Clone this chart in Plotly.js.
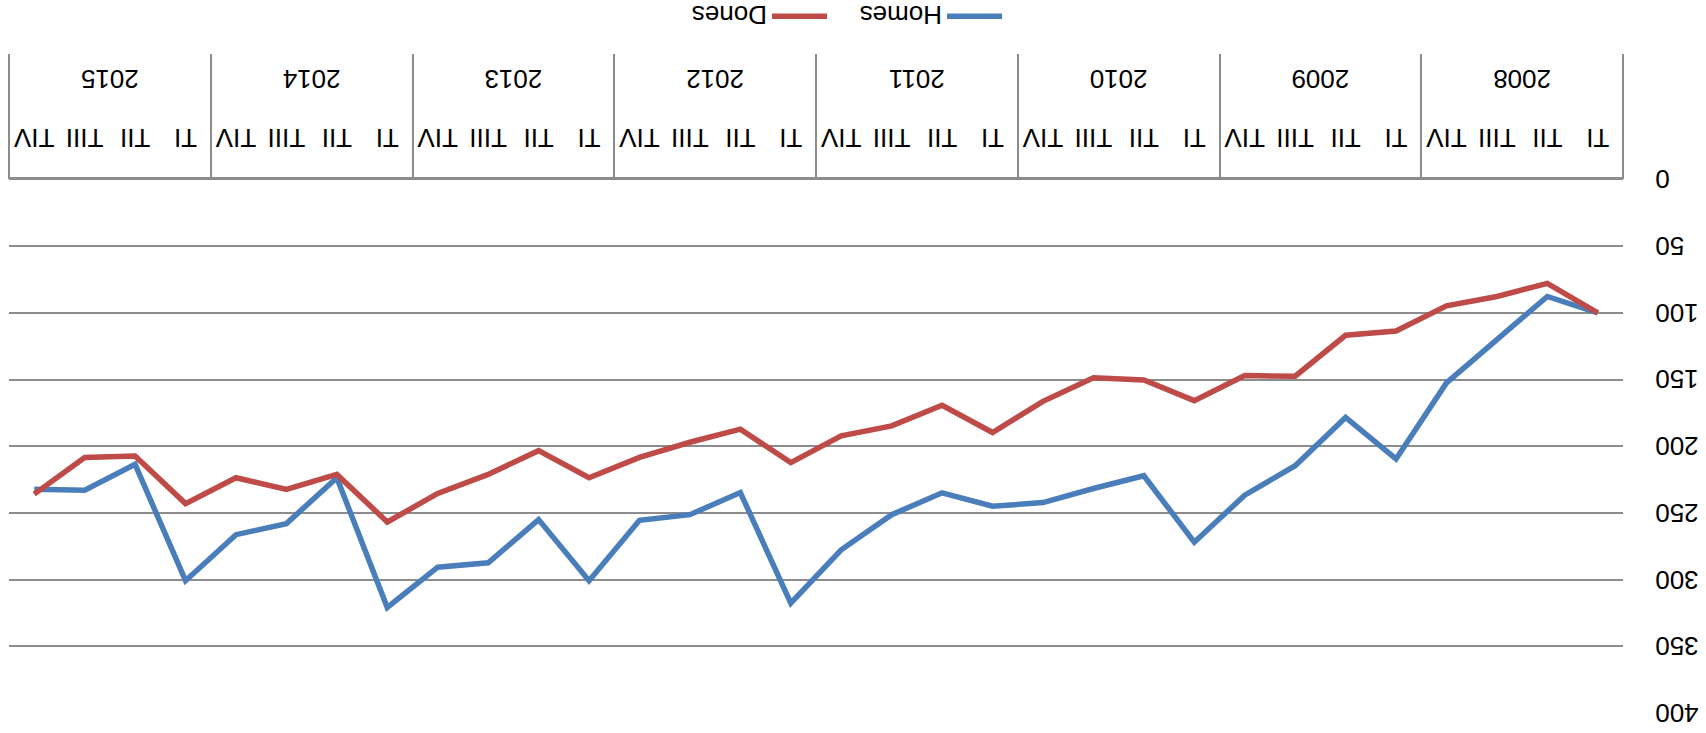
<!DOCTYPE html>
<html>
<head>
<meta charset="utf-8">
<script src="https://cdn.plot.ly/plotly-3.0.1.min.js"></script>
<style>
html, body { margin: 0; padding: 0; width: 1706px; height: 733px; overflow: hidden; background: #ffffff; }
#wrap { width: 1706px; height: 733px; transform: rotate(180deg); transform-origin: 50% 50%; }
#chart { width: 1706px; height: 733px; }
</style>
</head>
<body>
<div id="wrap"><div id="chart"></div></div>
<script>
// ---- data ----
const years = ['2008', '2009', '2010', '2011', '2012', '2013', '2014', '2015'];
const quarters = ['TI', 'TII', 'TIII', 'TIV'];
const homes = [100, 87.7, 120, 152.5, 209.5, 178.4, 214.6, 236.7,
               271.9, 222.1, 231.7, 242.2, 245, 234.9, 251.3, 277.6,
               317.6, 234.7, 251.3, 255.5, 300.8, 255, 287.4, 290.7,
               320.9, 223.6, 258, 266.3, 300.8, 213.6, 232.9, 232.2];
const dones = [100, 77.9, 87.7, 94.7, 113.6, 116.8, 147.5, 147,
               165.8, 150.3, 148.7, 166.3, 189.7, 169.3, 184.7, 192.2,
               212.3, 187.2, 197, 208.3, 223.6, 203.3, 221.1, 235.4,
               256.8, 221.1, 232.4, 223.6, 243, 207.3, 208.5, 235.9];
const yTicks = [0, 50, 100, 150, 200, 250, 300, 350, 400];

// ---- categories: one per quarter of each year ----
const xCat = [];
const xQuarter = [];
years.forEach(function (y) {
  quarters.forEach(function (q) { xCat.push(y + ' ' + q); xQuarter.push(q); });
});
const nQ = quarters.length;
// year label positions (centre of each group) and group boundaries, in category units
const yearCentres = years.map(function (_, i) { return i * nQ + (nQ - 1) / 2; });
const groupEdges = [];
for (let i = 0; i <= years.length; i++) groupEdges.push(i * nQ - 0.5);
const xRange = [-0.5, xCat.length - 0.5];

const FONT = 'Liberation Sans, Arial, sans-serif';
const GRID = '#8c8c8c';

const traces = [
  { type: 'scatter', mode: 'lines', name: 'Homes', x: xCat, y: homes,
    line: { color: '#4a7ebb', width: 5.5 } },
  { type: 'scatter', mode: 'lines', name: 'Dones', x: xCat, y: dones,
    line: { color: '#be4b48', width: 5.5 } },
  // empty traces so that the year-label axis and the divider axis are drawn
  { type: 'scatter', mode: 'lines', x: [], y: [], xaxis: 'x2', yaxis: 'y',
    showlegend: false, hoverinfo: 'skip' },
  { type: 'scatter', mode: 'lines', x: [], y: [], xaxis: 'x3', yaxis: 'y',
    showlegend: false, hoverinfo: 'skip' }
];

const layout = {
  width: 1706, height: 733,
  margin: { l: 83, r: 9, t: 20, b: 40 },
  paper_bgcolor: '#ffffff', plot_bgcolor: '#ffffff',
  font: { family: FONT, size: 26, color: '#000000' },
  showlegend: true,
  legend: { orientation: 'h', xref: 'container', yref: 'container', x: 0.5123, y: 0.022,
            xanchor: 'center', yanchor: 'middle', font: { family: FONT, size: 26, color: '#000' },
            itemwidth: 55, entrywidth: 105, entrywidthmode: 'pixels', bgcolor: 'rgba(0,0,0,0)' },
  // quarter labels
  xaxis: {
    type: 'category', range: xRange, anchor: 'y',
    tickmode: 'array', tickvals: xCat, ticktext: xQuarter,
    showgrid: false, zeroline: false,
    showline: true, linecolor: GRID, linewidth: 2.5,
    ticks: 'outside', ticklen: 17, tickcolor: 'rgba(0,0,0,0)',
    tickfont: { family: FONT, size: 26, color: '#000' }
  },
  // year labels
  xaxis2: {
    type: 'linear', overlaying: 'x', anchor: 'free', position: 0.0847, range: xRange,
    tickmode: 'array', tickvals: yearCentres, ticktext: years,
    showgrid: false, zeroline: false, showline: false, ticks: '',
    tickfont: { family: FONT, size: 26, color: '#000' }
  },
  // year group dividers
  xaxis3: {
    type: 'linear', overlaying: 'x', anchor: 'y', range: xRange,
    tickmode: 'array', tickvals: groupEdges, showticklabels: false,
    showgrid: false, zeroline: false, showline: false,
    ticks: 'outside', ticklen: 125, tickwidth: 2, tickcolor: GRID
  },
  yaxis: {
    domain: [0.2073, 1], range: [0, 400], tickvals: yTicks, ticktext: yTicks.map(String),
    showgrid: true, gridcolor: GRID, gridwidth: 2, zeroline: false, showline: false,
    ticks: 'outside', ticklen: 26, tickcolor: 'rgba(0,0,0,0)',
    tickfont: { family: FONT, size: 26, color: '#000' }
  }
};

Plotly.newPlot('chart', traces, layout, { staticPlot: true, displayModeBar: false });
</script>
</body>
</html>
